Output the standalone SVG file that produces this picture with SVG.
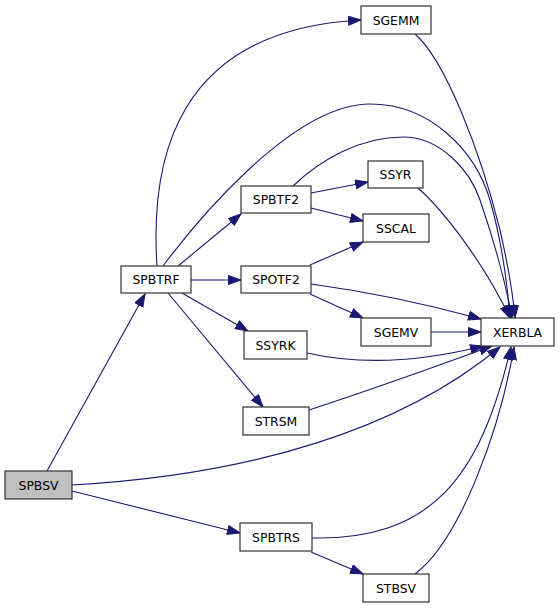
<svg xmlns="http://www.w3.org/2000/svg" width="560" height="608" viewBox="0 0 560 608">
<style>
.n rect{fill:#ffffff;stroke:#333333;stroke-width:1.2}
.n text{font-family:"DejaVu Sans","Liberation Sans",sans-serif;font-size:12.4px;text-anchor:middle;fill:#000000}
.e path{fill:none;stroke:#191970;stroke-width:1.1;marker-end:url(#ah)}
</style>
<defs>
<marker id="ah" markerUnits="userSpaceOnUse" markerWidth="14" markerHeight="11" refX="13" refY="5" orient="auto" viewBox="0 0 14 11">
<path d="M0.5,0.5 L13,5 L0.5,9.5 z" fill="#191970" stroke="#191970" stroke-width="1"/>
</marker>
</defs>
<rect width="560" height="608" fill="#ffffff"/>
<g id="connectors" class="e">
<path d="M47,471 L145,294"/>
<path d="M72,485 C250,475 400,430 500,347"/>
<path d="M72,491 L240,533"/>
<path d="M157,266 C150,160 175,30 361,20"/>
<path d="M163,266 C190,230 290,104 370,104 C430,104 475,150 490,200 C500,235 507,280 510,318"/>
<path d="M178,266 L241,214"/>
<path d="M191,280 L241,280"/>
<path d="M182,293 L248,331"/>
<path d="M168,293 L263,407"/>
<path d="M311,193 L368,182"/>
<path d="M311,208 L363,221"/>
<path d="M293,186 C320,160 360,137 403,137 C440,137 470,170 480,200 C492,235 505,280 512,318"/>
<path d="M418,188 C445,212 485,265 510,318"/>
<path d="M415,34 C445,60 480,150 500,230 C508,265 513,295 515,318"/>
<path d="M310,265 L363,242"/>
<path d="M310,294 L363,318"/>
<path d="M311,284 C370,292 430,305 481,319"/>
<path d="M431,332 L481,332"/>
<path d="M307,353 C360,365 420,362 483,346"/>
<path d="M309,410 C370,390 440,365 492,346"/>
<path d="M312,538 C430,540 480,480 511,347"/>
<path d="M311,552 L363,574"/>
<path d="M415,574 C460,540 500,430 514,347"/>
</g>
<g id="SPBSV" class="n"><rect x="5" y="471" width="67" height="28" style="fill:#bfbfbf"/><text x="38.5" y="489.5">SPBSV</text></g>
<g id="SPBTRF" class="n"><rect x="121" y="266" width="70" height="27"/><text x="156" y="284">SPBTRF</text></g>
<g id="SGEMM" class="n"><rect x="361" y="6" width="70" height="28"/><text x="396" y="24.5">SGEMM</text></g>
<g id="SSYR" class="n"><rect x="368" y="161" width="55" height="27"/><text x="395.5" y="179">SSYR</text></g>
<g id="SPBTF2" class="n"><rect x="241" y="186" width="70" height="27"/><text x="276" y="204">SPBTF2</text></g>
<g id="SSCAL" class="n"><rect x="363" y="214" width="66" height="28"/><text x="396" y="232.5">SSCAL</text></g>
<g id="SPOTF2" class="n"><rect x="241" y="266" width="70" height="27"/><text x="276" y="284">SPOTF2</text></g>
<g id="SGEMV" class="n"><rect x="361" y="318" width="70" height="28"/><text x="396" y="336.5">SGEMV</text></g>
<g id="XERBLA" class="n"><rect x="481" y="318" width="73" height="28"/><text x="517.5" y="336.5">XERBLA</text></g>
<g id="SSYRK" class="n"><rect x="244" y="331" width="63" height="28"/><text x="275.5" y="349.5">SSYRK</text></g>
<g id="STRSM" class="n"><rect x="243" y="407" width="66" height="28"/><text x="276" y="425.5">STRSM</text></g>
<g id="SPBTRS" class="n"><rect x="240" y="523" width="72" height="28"/><text x="276" y="541.5">SPBTRS</text></g>
<g id="STBSV" class="n"><rect x="363" y="574" width="66" height="28"/><text x="396" y="592.5">STBSV</text></g>
</svg>
